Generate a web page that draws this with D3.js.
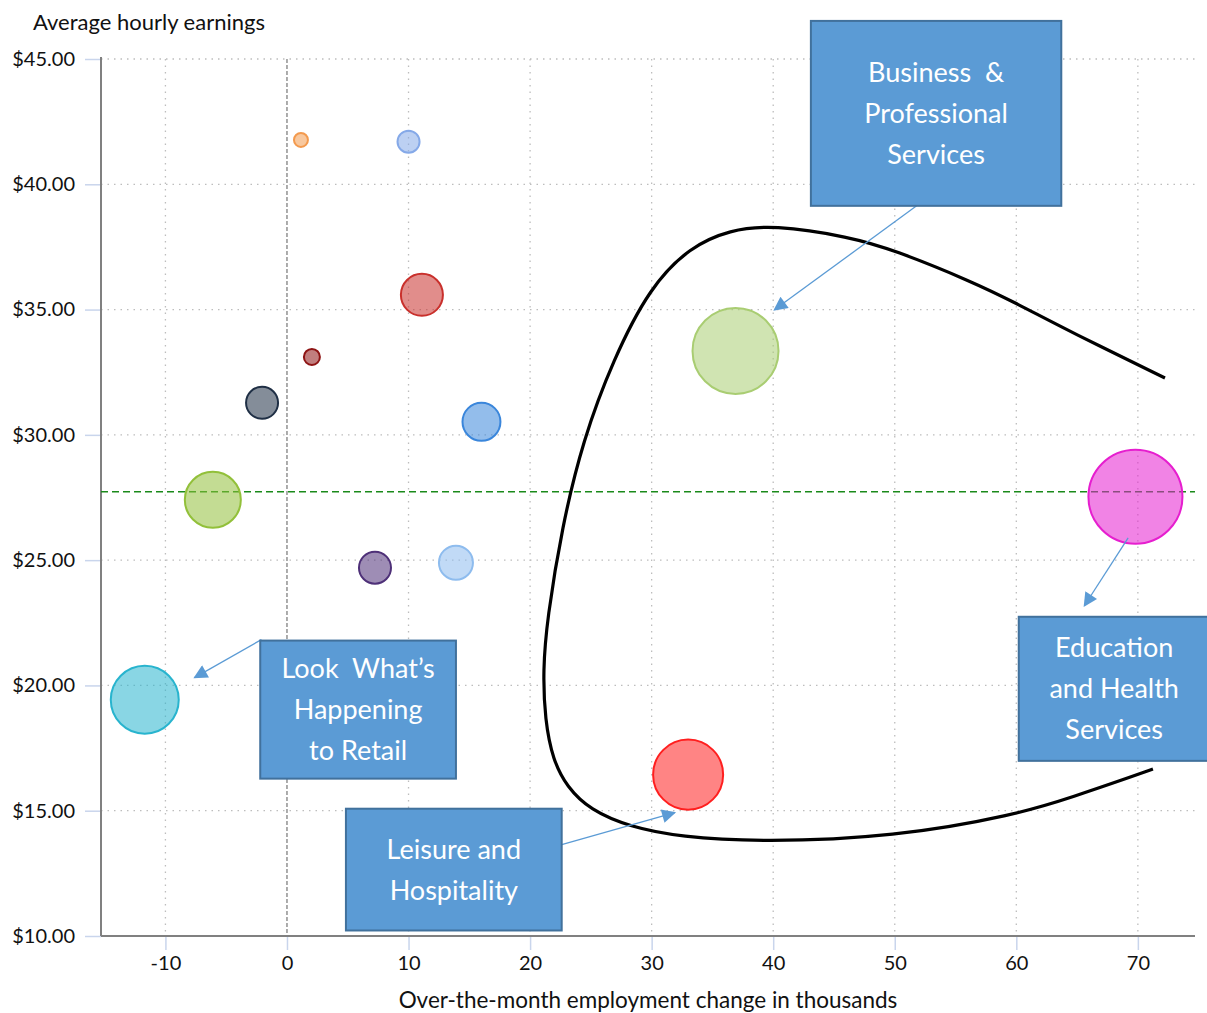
<!DOCTYPE html>
<html>
<head>
<meta charset="utf-8">
<script src="https://cdn.jsdelivr.net/npm/d3@7"></script>
<style>
  body { margin: 0; background: #fff; }
  svg text { font-family: Lato, "Open Sans", sans-serif; }
</style>
</head>
<body>
<svg id="chart" width="1207" height="1013"></svg>
<script>
// Bubble data
const change = [1.15, 10.0, 11.1, 2.05, -2.05, 16.0, -6.1, 7.24, 13.9, -11.7, 36.9, 69.8, 33.0];
const earnings = [41.77, 41.7, 35.59, 33.11, 31.28, 30.52, 27.41, 24.7, 24.9, 19.43, 33.35, 27.53, 16.44];
const size = [2.2, 5.5, 20, 2.9, 11.6, 16.3, 35.5, 11.6, 13.1, 52.3, 83.7, 100, 55.5];
const colors = ['#F39A4E', '#85A9E8', '#C9302C', '#8E1414', '#1F2F45', '#3A86DB', '#92C03A',
                '#4E3078', '#8EBCEE', '#28B4CE', '#A9CD72', '#E61ECF', '#FF1F1F'];
const avgEarnings = 27.73;

const xTicks = [-10, 0, 10, 20, 30, 40, 50, 60, 70];
const yTicks = [10, 15, 20, 25, 30, 35, 40, 45];

// hand drawn loop (data coords)
const loopX = [72.23, 64.66, 59.97, 56.43, 49.93, 46.31, 39.98, 36.44, 33.15, 29.86, 26.82, 24.35, 22.62,
               21.39, 21.06, 21.22, 21.88, 23.03, 24.93, 28.22, 32.33, 39.16, 49.93, 59.97, 64.66, 69.92, 71.24];
const loopY = [32.27, 34.06, 35.26, 36.10, 37.38, 37.90, 38.38, 38.18, 37.50, 35.90, 32.99, 29.79, 26.32,
               22.61, 20.62, 18.62, 17.02, 15.95, 15.03, 14.35, 13.95, 13.75, 13.95, 14.83, 15.55, 16.43, 16.66];

// callouts
const boxText = [['Business  &', 'Professional', 'Services'],
                 ['Education', 'and Health', 'Services'],
                 ['Look  What\u2019s', 'Happening', 'to Retail'],
                 ['Leisure and', 'Hospitality']];
const boxX0 = [43.1, 60.2, -2.2, 4.85];
const boxX1 = [63.7, 75.9, 13.9, 22.6];
const boxY0 = [46.52, 22.74, 21.79, 15.08];
const boxY1 = [39.14, 16.99, 16.28, 10.22];
const arrowFrom = [[51.8, 39.14], [69.2, 25.89], [-2.1, 21.83], [22.6, 13.65]];
const arrowTo = [[40.1, 34.99], [65.6, 23.18], [-7.6, 20.31], [31.9, 14.92]];

const svg = d3.select('#chart');
const mLeft = 101, mRight = 1195, mTop = 59, mBottom = 936;

const x = d3.scaleLinear().domain([-15.3, 74.7]).range([mLeft, mRight]);
const y = d3.scaleLinear().domain([10, 45]).range([mBottom, mTop]);
const r = d3.scaleSqrt().domain([0, 100]).range([0, 47]);

// grid
svg.append('g').selectAll('line').data(yTicks.filter(d => d > 10)).join('line')
  .attr('x1', mLeft).attr('x2', mRight).attr('y1', d => y(d)).attr('y2', d => y(d))
  .attr('stroke', '#bdbdbd').attr('stroke-width', 1.3).attr('stroke-dasharray', '1.5,5');
svg.append('g').selectAll('line').data(xTicks.filter(d => d !== 0)).join('line')
  .attr('x1', d => x(d)).attr('x2', d => x(d)).attr('y1', mTop).attr('y2', mBottom)
  .attr('stroke', '#bdbdbd').attr('stroke-width', 1.3).attr('stroke-dasharray', '1.5,5');
svg.append('line')
  .attr('x1', x(0)).attr('x2', x(0)).attr('y1', mTop).attr('y2', mBottom)
  .attr('stroke', '#808080').attr('stroke-width', 1.3).attr('stroke-dasharray', '4,2');

// axes
const xAxis = svg.append('g').attr('transform', `translate(0,${mBottom})`)
  .call(d3.axisBottom(x).tickValues(xTicks).tickSize(14).tickPadding(6).tickFormat(d => String(d)));
const yAxis = svg.append('g').attr('transform', `translate(${mLeft},0)`)
  .call(d3.axisLeft(y).tickValues(yTicks).tickSize(16).tickPadding(10).tickFormat(d => '$' + d.toFixed(2)));
[xAxis, yAxis].forEach(g => {
  g.select('.domain').remove();
  g.selectAll('.tick line').attr('stroke', '#c9d5ec').attr('stroke-width', 1.5);
  g.selectAll('.tick text').attr('fill', '#111').style('font-size', '20px');
});
svg.append('line').attr('x1', mLeft).attr('x2', mRight).attr('y1', mBottom).attr('y2', mBottom)
  .attr('stroke', '#808080').attr('stroke-width', 2);
svg.append('line').attr('x1', mLeft).attr('x2', mLeft).attr('y1', mTop - 2).attr('y2', mBottom)
  .attr('stroke', '#808080').attr('stroke-width', 2);

// average line
svg.append('line')
  .attr('x1', mLeft).attr('x2', mRight).attr('y1', y(avgEarnings)).attr('y2', y(avgEarnings))
  .attr('stroke', '#1a8a1a').attr('stroke-width', 1.5).attr('stroke-dasharray', '7,4');

// bubbles
svg.append('g').selectAll('circle').data(change).join('circle')
  .attr('cx', d => x(d))
  .attr('cy', (d, i) => y(earnings[i]))
  .attr('r', (d, i) => r(size[i]))
  .attr('fill', (d, i) => colors[i])
  .attr('fill-opacity', 0.55)
  .attr('stroke', (d, i) => colors[i])
  .attr('stroke-width', 2);

// axis titles
svg.append('text').attr('x', 33).attr('y', 30).text('Average hourly earnings')
  .style('font-size', '22px').attr('fill', '#111');
svg.append('text').attr('x', 648).attr('y', 1008).attr('text-anchor', 'middle')
  .text('Over-the-month employment change in thousands')
  .style('font-size', '22.5px').attr('fill', '#111');

// loop
svg.append('path')
  .datum(loopX.map((d, i) => [d, loopY[i]]))
  .attr('d', d3.line().x(d => x(d[0])).y(d => y(d[1])).curve(d3.curveBasis))
  .attr('fill', 'none').attr('stroke', '#000').attr('stroke-width', 3.2);

// arrows
svg.append('defs').append('marker')
  .attr('id', 'head').attr('viewBox', '0 0 10 10').attr('refX', 9).attr('refY', 5)
  .attr('markerWidth', 15).attr('markerHeight', 14).attr('markerUnits', 'userSpaceOnUse')
  .attr('orient', 'auto')
  .append('path').attr('d', 'M0,0 L10,5 L0,10 z').attr('fill', '#5B9BD5');
svg.append('g').selectAll('line').data(arrowFrom).join('line')
  .attr('x1', d => x(d[0])).attr('y1', d => y(d[1]))
  .attr('x2', (d, i) => x(arrowTo[i][0])).attr('y2', (d, i) => y(arrowTo[i][1]))
  .attr('stroke', '#5B9BD5').attr('stroke-width', 1.3).attr('marker-end', 'url(#head)');

// callout boxes
const boxes = svg.append('g').selectAll('g').data(boxText).join('g');
boxes.append('rect')
  .attr('x', (d, i) => x(boxX0[i])).attr('y', (d, i) => y(boxY0[i]))
  .attr('width', (d, i) => x(boxX1[i]) - x(boxX0[i]))
  .attr('height', (d, i) => y(boxY1[i]) - y(boxY0[i]))
  .attr('fill', '#5B9BD5').attr('stroke', '#41719C').attr('stroke-width', 2);
boxes.each(function (lines, i) {
  const cx = (x(boxX0[i]) + x(boxX1[i])) / 2;
  const cy = (y(boxY0[i]) + y(boxY1[i])) / 2;
  const lh = 41;
  lines.forEach((t, j) => {
    d3.select(this).append('text')
      .attr('x', cx)
      .attr('y', cy + (j - (lines.length - 1) / 2) * lh)
      .attr('dy', '0.35em')
      .attr('text-anchor', 'middle')
      .attr('fill', '#fff')
      .style('font-size', '27px')
      .style('white-space', 'pre')
      .text(t);
  });
});
</script>
</body>
</html>
